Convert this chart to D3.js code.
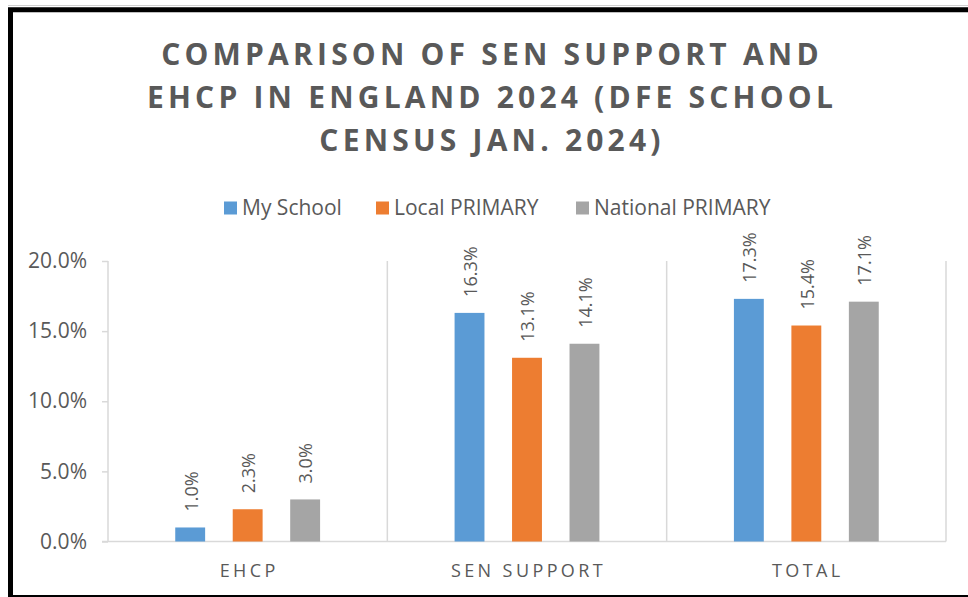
<!DOCTYPE html>
<html>
<head>
<meta charset="utf-8">
<script src="https://cdn.jsdelivr.net/npm/d3@7"></script>
<style>
  html, body { margin: 0; padding: 0; background: #fff; }
  svg { display: block; font-family: "Open Sans", sans-serif; }
</style>
</head>
<body>
<svg id="chart"></svg>
<script>
const width = 968;
const height = 597;

// data
const categories = ["EHCP", "SEN SUPPORT", "TOTAL"];
const seriesNames = ["My School", "Local PRIMARY", "National PRIMARY"];
const mySchool = [1.0, 16.3, 17.3];
const localPrimary = [2.3, 13.1, 15.4];
const nationalPrimary = [3.0, 14.1, 17.1];
const yTicks = [0, 5, 10, 15, 20];
const titleLines = ["COMPARISON OF SEN SUPPORT AND", "EHCP IN ENGLAND 2024 (DFE SCHOOL", "CENSUS JAN. 2024)"];

const seriesValues = [mySchool, localPrimary, nationalPrimary];
const colors = ["#5B9BD5", "#ED7D31", "#A5A5A5"];
const textColor = "#595959";
const gridColor = "#D9D9D9";

const plot = { left: 108, right: 946, top: 261, bottom: 541.5 };

const svg = d3.select("#chart").attr("width", width).attr("height", height);

// frame
svg.append("line")
	.attr("x1", 8).attr("x2", width).attr("y1", 5.5).attr("y2", 5.5)
	.attr("stroke", "#cfcfcf").attr("stroke-width", 1);
svg.append("rect")
	.attr("x", 10.5).attr("y", 9.75)
	.attr("width", 980).attr("height", 587.75)
	.attr("fill", "none").attr("stroke", "#000").attr("stroke-width", 5);

// title
svg.append("g")
	.selectAll("text")
	.data(titleLines)
	.join("text")
	.attr("x", 492)
	.attr("y", (d, i) => 65 + i * 43)
	.attr("text-anchor", "middle")
	.attr("font-size", 30)
	.attr("font-weight", "bold")
	.attr("letter-spacing", "4.2px")
	.attr("fill", textColor)
	.text((d) => d);

// legend
const legendX = [224, 376, 576];
const legend = svg.append("g")
	.selectAll("g")
	.data(seriesNames)
	.join("g")
	.attr("transform", (d, i) => `translate(${legendX[i]},208)`);
legend.append("rect")
	.attr("x", 0).attr("y", -6.5)
	.attr("width", 13).attr("height", 13)
	.attr("fill", (d, i) => colors[i]);
legend.append("text")
	.attr("x", 18)
	.attr("y", 0)
	.attr("dy", "0.35em")
	.attr("font-size", 21)
	.attr("fill", textColor)
	.text((d) => d);

// scales
const x0 = d3.scaleBand().domain(categories).range([plot.left, plot.right]).padding(0);
const x1 = d3.scaleBand().domain(seriesNames).range([0, x0.bandwidth()]).paddingInner(0.48).paddingOuter(1.17);
const y = d3.scaleLinear().domain([0, 20]).range([plot.bottom, plot.top]);

// vertical gridlines at category boundaries
const bounds = categories.map((c) => x0(c)).concat([x0(categories[categories.length - 1]) + x0.bandwidth()]);
svg.append("g")
	.selectAll("line")
	.data(bounds)
	.join("line")
	.attr("x1", (d) => d).attr("x2", (d) => d)
	.attr("y1", plot.top).attr("y2", plot.bottom)
	.attr("stroke", gridColor).attr("stroke-width", 1.5);

// y axis
const yAxis = svg.append("g")
	.attr("transform", `translate(${plot.left},0)`)
	.call(d3.axisLeft(y).tickValues(yTicks).tickSize(6).tickPadding(15).tickFormat((d) => d.toFixed(1) + "%"));
yAxis.select(".domain").remove();
yAxis.selectAll(".tick line").attr("stroke", gridColor).attr("stroke-width", 1.5);
yAxis.selectAll(".tick text")
	.attr("font-size", 21)
	.attr("font-family", "Open Sans, sans-serif")
	.attr("fill", textColor);

// baseline
svg.append("line")
	.attr("x1", plot.left - 6).attr("x2", plot.right)
	.attr("y1", y(0)).attr("y2", y(0))
	.attr("stroke", gridColor).attr("stroke-width", 1.5);

// bars
const groups = svg.append("g")
	.selectAll("g")
	.data(categories)
	.join("g")
	.attr("transform", (d) => `translate(${x0(d)},0)`);

const cells = groups.selectAll("g")
	.data((c, ci) => seriesNames.map((s, si) => ({ series: s, si, value: seriesValues[si][ci] })))
	.join("g");

cells.append("rect")
	.attr("x", (d) => x1(d.series))
	.attr("y", (d) => y(d.value))
	.attr("width", x1.bandwidth())
	.attr("height", (d) => y(0) - y(d.value))
	.attr("fill", (d) => colors[d.si]);

cells.append("text")
	.attr("transform", (d) => `translate(${x1(d.series) + x1.bandwidth() / 2 + 1},${y(d.value) - 16}) rotate(-90)`)
	.attr("text-anchor", "start")
	.attr("dy", "0.35em")
	.attr("font-size", 18)
	.attr("fill", textColor)
	.text((d) => d.value.toFixed(1) + "%");

// category labels
svg.append("g")
	.selectAll("text")
	.data(categories)
	.join("text")
	.attr("x", (d) => x0(d) + x0.bandwidth() / 2 + 1.5)
	.attr("y", 577)
	.attr("text-anchor", "middle")
	.attr("font-size", 18)
	.attr("letter-spacing", "3.4px")
	.attr("fill", textColor)
	.text((d) => d);
</script>
</body>
</html>
